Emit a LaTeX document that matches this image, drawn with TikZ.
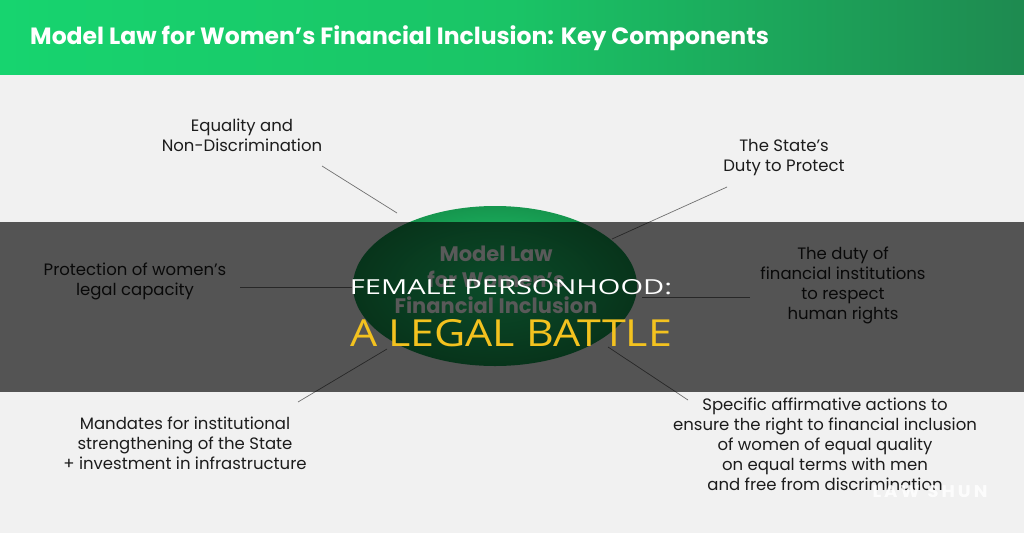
\documentclass[tikz,border=0pt]{standalone}
\usepackage{fontspec}
\usepackage{graphicx}
\setmainfont{Poppins}
\newfontfamily\osans{Open Sans}
\usetikzlibrary{shapes.geometric}
\definecolor{bgc}{HTML}{F1F1F1}
\definecolor{hdrL}{HTML}{17D46F}
\definecolor{hdrM}{HTML}{1AC466}
\definecolor{hdrR}{HTML}{1E8A50}
\definecolor{ellIn}{HTML}{22DA78}
\definecolor{ellOut}{HTML}{16964E}
\definecolor{txt}{HTML}{1C1C1C}
\definecolor{linec}{HTML}{707070}
\definecolor{gold}{HTML}{F3C21F}
\tikzset{
  lbl/.style={text=txt, align=center, font=\fontsize{16.5}{20}\selectfont, inner sep=0pt},
  conn/.style={draw=linec, line width=0.7pt},
}
\begin{document}
\begin{tikzpicture}[x=1pt,y=-1pt]
\useasboundingbox (0,0) rectangle (1024,533);
\fill[bgc] (0,0) rectangle (1024,533);
% header
\shade[left color=hdrL, right color=hdrR, middle color=hdrM] (0,0) rectangle (1024,74);
\node[anchor=west, text=white, font=\fontsize{23.5}{26}\selectfont\bfseries, inner sep=0pt] (title) at (30,38) {Model Law for Women’s Financial Inclusion: Key Components};
% central ellipse
\node[ellipse, minimum width=284pt, minimum height=160pt, inner color=ellIn, outer color=ellOut, inner sep=0pt] (core) at (495,286) {};
\node[text=white, align=center, font=\fontsize{21}{26}\selectfont\bfseries, inner sep=0pt] (coretxt) at (496,280) {Model Law\\for Women’s\\Financial Inclusion};
% labels
\node[lbl] (eq) at (242,135) {Equality and\\Non-Discrimination};
\node[lbl] (st) at (784,158) {The State’s\\Duty to Protect};
\node[lbl] (pr) at (135,281) {Protection of women’s\\legal capacity};
\node[lbl] (fi) at (843,285) {The duty of\\financial institutions\\to respect\\human rights};
\node[lbl] (md) at (185,443) {Mandates for institutional\\strengthening of the State\\+ investment in infrastructure};
\node[lbl] (sp) at (825,444) {Specific affirmative actions to\\ensure the right to financial inclusion\\of women of equal quality\\on equal terms with men\\and free from discrimination};
% connector end points
\coordinate (eqA) at (322,166); \coordinate (eqB) at (397,213);
\coordinate (stA) at (727,187); \coordinate (stB) at (612,239);
\coordinate (prA) at (240,287); \coordinate (prB) at (352,287);
\coordinate (fiA) at (750,297); \coordinate (fiB) at (642,297);
\coordinate (mdA) at (298,402); \coordinate (mdB) at (387,349);
\coordinate (spA) at (688,400); \coordinate (spB) at (608,347);
\draw[conn] (eqA) -- (eqB);
\draw[conn] (stA) -- (stB);
\draw[conn] (prA) -- (prB);
\draw[conn] (fiA) -- (fiB);
\draw[conn] (mdA) -- (mdB);
\draw[conn] (spA) -- (spB);
% overlay band
\fill[black, opacity=0.65] (0,222) rectangle (1024,392);
\node[text=white, inner sep=0pt] (h1) at (511,287) {\resizebox{322pt}{15pt}{\osans FEMALE PERSONHOOD:}};
\node[text=gold, inner sep=0pt] (h2) at (511,333) {\resizebox{322pt}{27pt}{\osans A LEGAL BATTLE}};
% watermark
\node[text=white, opacity=0.85, inner sep=0pt] (wm) at (930,492) {\resizebox{115pt}{12pt}{\bfseries L\,A\,W\ \ S\,H\,U\,N}};
\end{tikzpicture}
\end{document}
